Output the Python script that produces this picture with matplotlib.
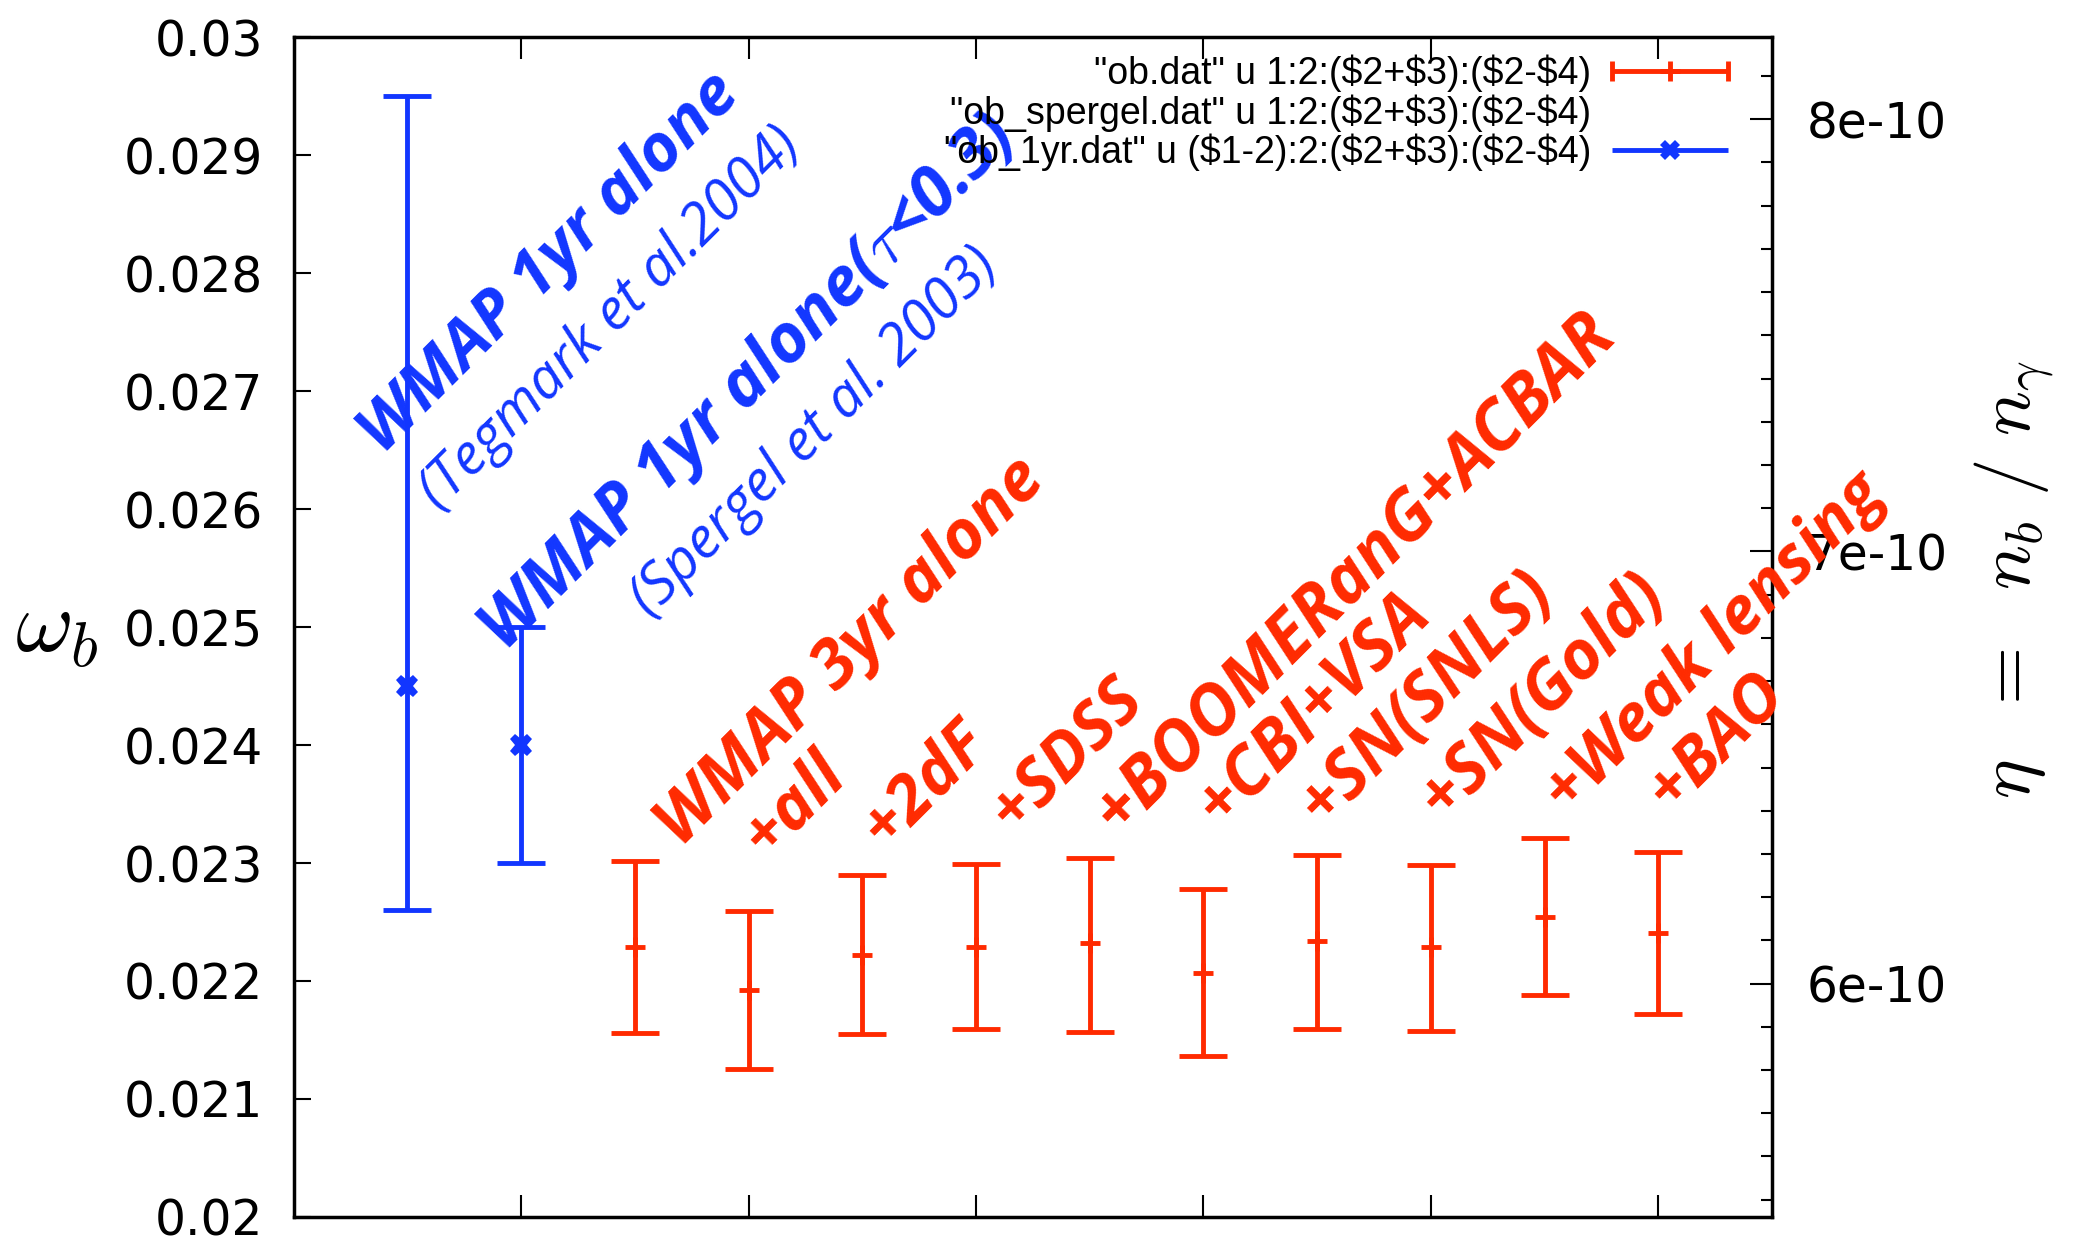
import matplotlib
matplotlib.use("Agg")
import numpy as np
import matplotlib.pyplot as plt
from matplotlib.lines import Line2D
from matplotlib.container import ErrorbarContainer
from matplotlib.legend_handler import HandlerErrorbar
from matplotlib.ticker import MultipleLocator

plt.rcParams['mathtext.fontset'] = 'cm'

# WMAP 3yr combinations (ob.dat)
red_x = [3, 4, 5, 6, 7, 8, 9, 10, 11, 12]
red_mid = [0.02229, 0.02192, 0.02222, 0.02229, 0.02232, 0.02207, 0.02234, 0.02229, 0.02254, 0.02241]
red_hi = [0.02302, 0.02259, 0.02290, 0.02299, 0.02304, 0.02278, 0.02307, 0.02298, 0.02321, 0.02309]
red_lo = [0.02156, 0.02125, 0.02155, 0.02159, 0.02157, 0.02136, 0.02159, 0.02158, 0.02188, 0.02172]
red_names = ["WMAP 3yr alone", "+all", "+2dF", "+SDSS", "+BOOMERanG+ACBAR", "+CBI+VSA",
             "+SN(SNLS)", "+SN(Gold)", "+Weak lensing", "+BAO"]

# WMAP 1yr (ob_1yr.dat)
blue_x = [1, 2]
blue_mid = [0.0245, 0.0240]
blue_hi = [0.0295, 0.0250]
blue_lo = [0.0226, 0.0230]

yticks = [0.020, 0.021, 0.022, 0.023, 0.024, 0.025, 0.026, 0.027, 0.028, 0.029, 0.030]
ylabels = ['0.02', '0.021', '0.022', '0.023', '0.024', '0.025', '0.026', '0.027', '0.028', '0.029', '0.03']

red = '#ff2a00'
blue = '#1236ff'

fig = plt.figure(figsize=(20.74, 12.38), dpi=100)
ax = fig.add_axes([0.1416, 0.017, 0.7128, 0.953])

ax.errorbar(red_x, red_mid,
            yerr=[[m - l for m, l in zip(red_mid, red_lo)], [h - m for m, h in zip(red_mid, red_hi)]],
            fmt='none', ecolor=red, elinewidth=3.5, capsize=17, capthick=3.5)
ax.plot(red_x, red_mid, '+', color=red, markersize=14, mew=3.5)
ax.errorbar(blue_x, blue_mid,
            yerr=[[m - l for m, l in zip(blue_mid, blue_lo)], [h - m for m, h in zip(blue_mid, blue_hi)]],
            fmt='none', ecolor=blue, elinewidth=3.5, capsize=17, capthick=3.5)
ax.plot(blue_x, blue_mid, 'X', color=blue, markersize=16, mew=0)

ax.set_xlim(0, 13)
ax.set_ylim(0.02, 0.03)
ax.set_xticks([2, 4, 6, 8, 10, 12])
ax.set_xticklabels([])
ax.set_yticks(yticks)
ax.set_yticklabels(ylabels)
ax.tick_params(axis='y', direction='in', length=12, width=1.5, labelsize=35, pad=22, right=False)
ax.tick_params(axis='x', direction='in', length=16, width=1.5, top=True)
for s in ax.spines.values():
    s.set_linewidth(2.5)

ax.set_ylabel(r'$\omega_b$', fontsize=64, rotation=0, labelpad=48, va='center')

eta = 273.0e-10
sec = ax.secondary_yaxis('right', functions=(lambda w: w * eta, lambda e: e / eta))
sec.set_yticks([6e-10, 7e-10, 8e-10])
sec.set_yticklabels(['6e-10', '7e-10', '8e-10'])
sec.yaxis.set_minor_locator(MultipleLocator(1e-11))
sec.tick_params(which='major', direction='in', length=16, width=1.5, labelsize=35, pad=25)
sec.tick_params(which='minor', direction='in', length=8, width=1.5)
sec.set_ylabel(r'$\eta\ \ =\ \ n_b\ /\ n_\gamma$', fontsize=54, labelpad=18, y=0.54)

# legend (horizontal error bars like gnuplot keys)
h_red = ax.errorbar([np.nan], [np.nan], xerr=[1], fmt='+', color=red, elinewidth=3.5,
                    capsize=7, capthick=3.5, markersize=14, mew=3.5)
h_blue = ax.errorbar([np.nan], [np.nan], xerr=[1], fmt='X', color=blue, elinewidth=3.5,
                     capsize=7, capthick=3.5, markersize=14, mew=0)
h_none = Line2D([], [], color='none')
ax.legend([h_red, h_none, h_blue],
          [r'"ob.dat" u 1:2:(\$2+\$3):(\$2-\$4)', r'"ob_spergel.dat" u 1:2:(\$2+\$3):(\$2-\$4)',
           r'"ob_1yr.dat" u (\$1-2):2:(\$2+\$3):(\$2-\$4)'],
          loc='upper right', bbox_to_anchor=(0.9716, 0.985), frameon=False, markerfirst=False,
          handlelength=3.2, prop={'family': 'Liberation Sans', 'size': 27},
          labelspacing=0.05, borderaxespad=0, borderpad=0, handletextpad=0.5,
          handler_map={ErrorbarContainer: HandlerErrorbar(xerr_size=1.55)})

# annotations (rotated 45 degrees)
bold = dict(family='Open Sans', weight='bold', style='italic', rotation=45,
            rotation_mode='anchor', ha='left', va='baseline', clip_on=False)
light = dict(family='Open Sans', style='italic', rotation=45,
             rotation_mode='anchor', ha='left', va='baseline', clip_on=False)

ax.text(0.78, 0.02645, 'WMAP 1yr alone', color=blue, fontsize=48, **bold)
ax.text(1.28, 0.02598, '(Tegmark et al.2004)', color=blue, fontsize=41, **light)
ax.text(1.85, 0.02478, r'WMAP 1yr alone($\tau$<0.3)', color=blue, fontsize=49, **bold)
ax.text(3.13, 0.02508, '(Spergel et al. 2003)', color=blue, fontsize=41, **light)

red_text_x = [3.4, 4.15, 5.2, 6.33, 7.25, 8.15, 9.05, 10.1, 11.2, 12.1]
red_text_y = [0.02312, 0.02304, 0.02311, 0.02325, 0.02323, 0.02330, 0.02330, 0.02335, 0.02340, 0.02343]
red_sizes = [49, 48, 48, 48, 50, 49, 49, 49, 48, 48]
for xt, yt, name, fs in zip(red_text_x, red_text_y, red_names, red_sizes):
    ax.text(xt, yt, name, color=red, fontsize=fs, **bold)

fig.savefig('out.png', dpi=100)
